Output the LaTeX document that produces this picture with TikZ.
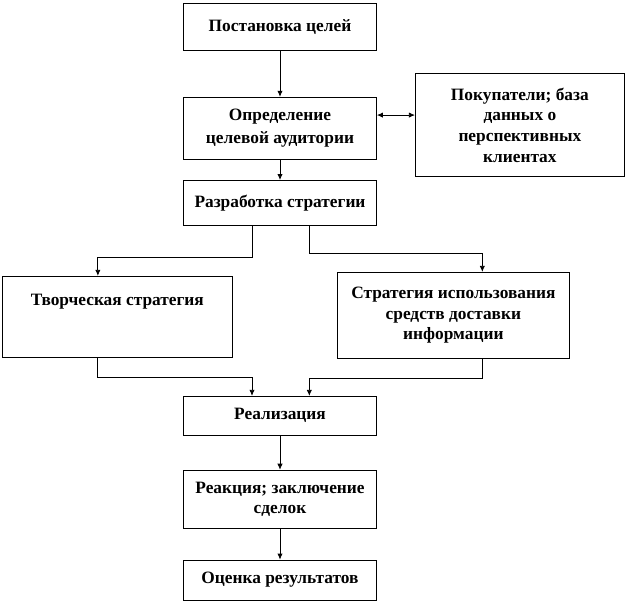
\documentclass[tikz,border=0pt]{standalone}
\usepackage{fontspec}
\setmainfont{Liberation Serif}
\usepackage{tikz}
\usetikzlibrary{positioning,calc,arrows.meta}

\tikzset{
    stage/.style={draw, thin, align=center, minimum width=145pt, inner sep=2pt,
        font=\fontsize{13}{15.5}\selectfont\bfseries},
    link/.style={-{Latex[length=4.5pt,width=4pt]}, line width=0.6pt},
}

\begin{document}
\begin{tikzpicture}[auto, node distance=1cm]
    \useasboundingbox (-210pt,19.9pt) rectangle (262.5pt,-430.9pt);

    \node [stage, minimum height=35pt] (goal) at (0,0) {Постановка целей};
    \node [stage, minimum height=47pt, below=35pt of goal] (audience) {Определение\\[2pt] целевой аудитории};
    \node [stage, minimum height=77pt, minimum width=157pt, right=28.5pt of audience, yshift=2.5pt] (clients) {Покупатели; база\\ данных о\\ перспективных\\ клиентах};
    \node [stage, minimum height=34pt, below=15pt of audience] (plan) {Разработка стратегии};
    \node [stage, minimum width=173pt, inner ysep=0pt, text height=21.75pt, text depth=39pt, below=37.5pt of plan, xshift=-122pt] (creative) {Творческая стратегия};
    \node [stage, minimum width=174pt, minimum height=64.5pt, below=34.5pt of plan, xshift=130pt] (media) {Стратегия использования\\ средств доставки\\ информации};
    \node [stage, minimum height=29pt, below=127.5pt of plan] (launch) {Реализация};
    \node [stage, minimum height=44pt, below=26pt of launch] (response) {Реакция; заключение\\ сделок};
    \node [stage, minimum height=30pt, below=23pt of response] (result) {Оценка результатов};

    \draw [link] (goal) -- (audience);
    \draw [{Latex[length=4.5pt,width=4pt]}-{Latex[length=4.5pt,width=4pt]}, line width=0.6pt]
        ([yshift=10pt]audience.east) -- ([yshift=10pt]audience.east -| clients.west);
    \draw [link] (audience) -- (plan);

    \draw [link] ([xshift=-21pt]plan.south) -- ++(0,-24pt) -| ([xshift=-14.6pt]creative.north);
    \draw [link] ([xshift=22pt]plan.south) -- ++(0,-21pt) -| ([xshift=21.75pt]media.north);

    \draw [link] ([xshift=-14.6pt]creative.south) -- ++(0,-15pt) -| ([xshift=-21pt]launch.north);
    \draw [link] ([xshift=21.75pt]media.south) -- ++(0,-15pt) -| ([xshift=22pt]launch.north);

    \draw [link] (launch) -- (response);
    \draw [link] (response) -- (result);
\end{tikzpicture}
\end{document}
